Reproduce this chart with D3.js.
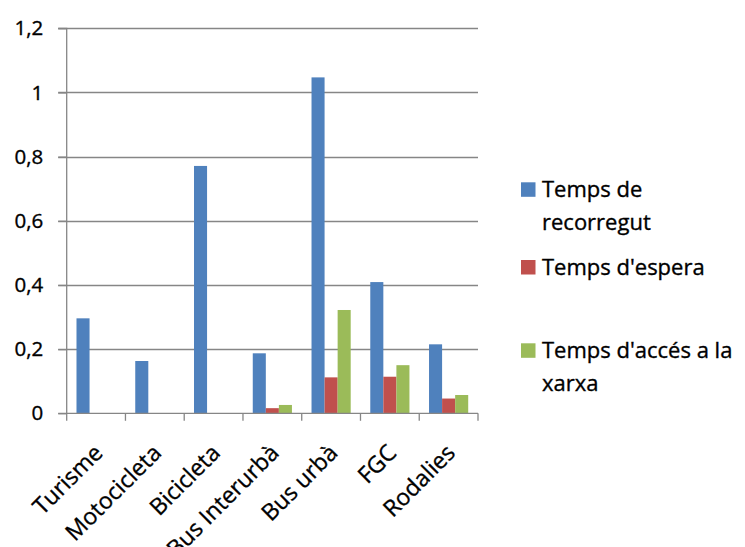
<!DOCTYPE html>
<html>
<head>
<meta charset="utf-8">
<script src="https://cdn.jsdelivr.net/npm/d3@7"></script>
<style>
  html, body { margin: 0; padding: 0; background: #fff; }
  svg { display: block; }
  text { font-family: "Open Sans", sans-serif; fill: #000; stroke: #000; stroke-width: 0.35px; }
</style>
</head>
<body>
<svg id="chart" width="745" height="547"></svg>
<script>
const categories = ["Turisme", "Motocicleta", "Bicicleta", "Bus Interurbà", "Bus urbà", "FGC", "Rodalies"];
const seriesNames = ["Temps de recorregut", "Temps d'espera", "Temps d'accés a la xarxa"];
const recorregut = [0.296, 0.163, 0.771, 0.187, 1.047, 0.409, 0.215];
const espera = [0, 0, 0, 0.016, 0.112, 0.114, 0.046];
const acces = [0, 0, 0, 0.026, 0.322, 0.150, 0.057];
const yTicks = [0, 0.2, 0.4, 0.6, 0.8, 1.0, 1.2];
const legendLines = [["Temps de", "recorregut"], ["Temps d'espera"], ["Temps d'accés a la", "xarxa"]];
const colors = ["#4F81BD", "#C0504D", "#9BBB59"];

const values = [recorregut, espera, acces];
const svg = d3.select("#chart");

const pLeft = 66.7, pRight = 478, pTop = 28.3, pBottom = 413.3;
const y = d3.scaleLinear().domain([0, 1.2]).range([pBottom, pTop]);
const x0 = d3.scaleBand().domain(categories).range([pLeft, pRight]).paddingInner(0).paddingOuter(0);
const x1 = d3.scaleBand().domain(seriesNames).range([0, x0.bandwidth()]).paddingInner(0).paddingOuter(0.75);

const gridColor = "#868686";

// gridlines
svg.append("g").selectAll("line").data(yTicks.filter(d => d > 0)).join("line")
  .attr("x1", pLeft - 8.5).attr("x2", pRight)
  .attr("y1", d => Math.round(y(d)) + 0.5).attr("y2", d => Math.round(y(d)) + 0.5)
  .attr("stroke", gridColor).attr("stroke-width", 1.3);

// bars
const groups = svg.append("g").selectAll("g").data(categories).join("g")
  .attr("transform", d => `translate(${x0(d)},0)`);
groups.selectAll("rect").data((c, i) => seriesNames.map((s, j) => ({ s, j, v: values[j][i] })))
  .join("rect")
  .attr("x", d => x1(d.s))
  .attr("width", x1.bandwidth())
  .attr("y", d => y(d.v))
  .attr("height", d => y(0) - y(d.v))
  .attr("fill", d => colors[d.j]);

// y axis
const yAxis = d3.axisLeft(y).tickValues(yTicks).tickSize(8.5).tickPadding(15)
  .tickFormat(d => d3.format("~g")(d).replace(".", ","));
const gy = svg.append("g").attr("transform", `translate(${pLeft},0)`).call(yAxis);
gy.select(".domain").attr("stroke", gridColor).attr("stroke-width", 1.3).attr("d", `M-8.5,${pTop}H0V${pBottom}`);
gy.selectAll(".tick line").attr("stroke", gridColor).attr("stroke-width", 1.3);
gy.selectAll(".tick text").style("font-size", "20.5px").style("font-family", "Open Sans, sans-serif").attr("fill", "#000");

// x axis
const gx = svg.append("g").attr("transform", `translate(0,${pBottom})`);
gx.append("line").attr("x1", pLeft - 8.5).attr("x2", pRight).attr("y1", 0).attr("y2", 0)
  .attr("stroke", gridColor).attr("stroke-width", 1.3);
const boundaries = categories.map(c => x0(c)).concat([x0(categories[categories.length - 1]) + x0.bandwidth()]);
gx.selectAll("line.tk").data(boundaries).join("line").attr("class", "tk")
  .attr("x1", d => d).attr("x2", d => d).attr("y1", 0).attr("y2", 7.5)
  .attr("stroke", gridColor).attr("stroke-width", 1.3);
gx.selectAll("text").data(categories).join("text")
  .attr("transform", d => `translate(${x0(d) + x0.bandwidth() / 2 + 8},${41}) rotate(-45)`)
  .attr("text-anchor", "end")
  .style("font-size", "23px")
  .text(d => d);

// legend
const legendTop = [182.3, 260, 343.3];
const lg = svg.append("g");
legendLines.forEach((lines, i) => {
  lg.append("rect").attr("x", 521).attr("y", legendTop[i]).attr("width", 14.5).attr("height", 14.5).attr("fill", colors[i]);
  lines.forEach((t, k) => {
    lg.append("text").attr("x", 542).attr("y", legendTop[i] + 14.5 + k * 33)
      .style("font-size", "22px").text(t);
  });
});
</script>
</body>
</html>
